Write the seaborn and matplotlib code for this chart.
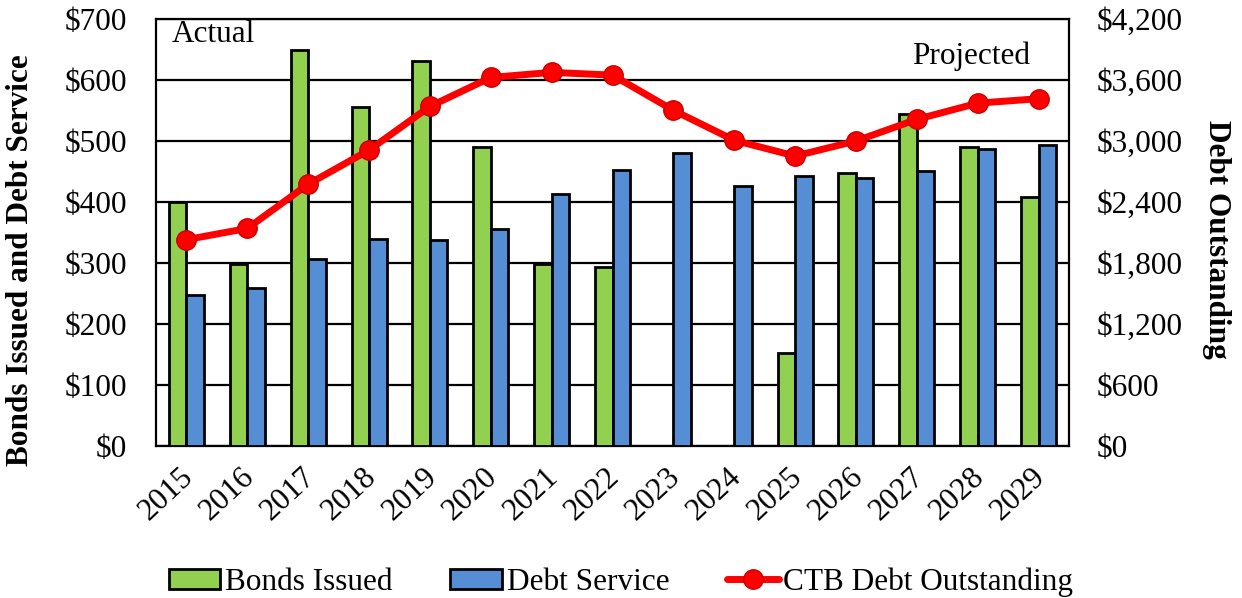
import numpy as np
import pandas as pd
import matplotlib
matplotlib.use("Agg")
import matplotlib.pyplot as plt
import matplotlib.transforms as mtransforms
import seaborn as sns
from matplotlib.lines import Line2D
from matplotlib.patches import Patch
from matplotlib.ticker import FuncFormatter

years = ["2015", "2016", "2017", "2018", "2019", "2020", "2021", "2022",
         "2023", "2024", "2025", "2026", "2027", "2028", "2029"]
bonds_issued = [400, 298, 650, 555, 631, 490, 298, 293, np.nan, np.nan,
                153, 448, 545, 490, 409]
debt_service = [248, 259, 306, 340, 338, 356, 413, 452, 481, 426,
                442, 440, 451, 487, 493]
debt_outstanding = [2030, 2140, 2575, 2910, 3340, 3625, 3675, 3648, 3302, 3007,
                    2852, 3000, 3213, 3372, 3416]

left_ticks = [0, 100, 200, 300, 400, 500, 600, 700]
right_ticks = [0, 600, 1200, 1800, 2400, 3000, 3600, 4200]

series_names = ["Bonds Issued", "Debt Service"]
line_name = "CTB Debt Outstanding"
green = "#92D050"
blue = "#558ED5"
red = "#FF0000"
FS = 22.5

sns.set_theme(style="white")
plt.rcParams["font.family"] = ["Liberation Serif", "DejaVu Serif"]
plt.rcParams["text.color"] = "black"
plt.rcParams["axes.labelcolor"] = "black"
plt.rcParams["xtick.color"] = "black"
plt.rcParams["ytick.color"] = "black"

df = pd.DataFrame({
    "year": years * 2,
    "value": bonds_issued + debt_service,
    "series": [series_names[0]] * len(years) + [series_names[1]] * len(years),
})

fig = plt.figure(figsize=(12.42, 5.98), dpi=100)
ax = fig.add_axes([156 / 1242, 1 - 446 / 598, (1069 - 156) / 1242, (446 - 19) / 598])

sns.barplot(data=df, x="year", y="value", hue="series", order=years,
            hue_order=series_names, palette=[green, blue], width=0.575,
            gap=0, edgecolor="black", linewidth=2, saturation=1,
            errorbar=None, legend=False, ax=ax, zorder=3)

ax.set_ylim(0, 700)
ax.set_yticks(left_ticks)
ax.yaxis.set_major_formatter(FuncFormatter(lambda v, p: f"${v:,.0f}"))
ax.grid(axis="y", color="black", linewidth=1.6, zorder=0)
ax.set_axisbelow(True)
ax.set_xlim(-0.5, len(years) - 0.5)
ax.set_xlabel("")
ax.set_ylabel("Bonds Issued and Debt Service", fontsize=FS, fontweight="bold", color="black")
ax.yaxis.set_label_coords(-0.1325, 0.436)
ax.tick_params(axis="both", length=0, labelsize=FS, colors="black", labelcolor="black")
ax.tick_params(axis="y", pad=21)
ax.tick_params(axis="x", pad=12)
offset = mtransforms.ScaledTranslation(-7 / 100, 0, fig.dpi_scale_trans)
for lab in ax.get_xticklabels():
    lab.set_rotation(43)
    lab.set_ha("right")
    lab.set_rotation_mode("anchor")
    lab.set_transform(lab.get_transform() + offset)
for s in ax.spines.values():
    s.set_color("black")
    s.set_linewidth(1.6)

ax2 = ax.twinx()
sns.lineplot(x=np.arange(len(years)), y=debt_outstanding, color=red, linewidth=5,
             marker="o", markersize=14, markerfacecolor=red, markeredgecolor="#CC0000",
             markeredgewidth=1, ax=ax2, zorder=5)
ax2.set_ylim(0, 4200)
ax2.set_yticks(right_ticks)
ax2.yaxis.set_major_formatter(FuncFormatter(lambda v, p: f"${v:,.0f}"))
ax2.set_ylabel("Debt Outstanding", fontsize=FS, fontweight="bold", rotation=270, color="black")
ax2.yaxis.label.set_va("bottom")
ax2.yaxis.set_label_coords((1202 - 156) / 913, 0.485)
ax2.tick_params(axis="y", length=0, labelsize=FS, colors="black", labelcolor="black", pad=20)
ax2.grid(False)
for s in ax2.spines.values():
    s.set_visible(False)

ax.text(0.0175, 0.946, "Actual", transform=ax.transAxes, fontsize=FS,
        va="baseline", ha="left", color="black")
ax.text(0.957, 0.895, "Projected", transform=ax.transAxes, fontsize=FS,
        va="baseline", ha="right", color="black")

handles = [
    Patch(facecolor=green, edgecolor="black", linewidth=2),
    Patch(facecolor=blue, edgecolor="black", linewidth=2),
    Line2D([0], [0], color=red, linewidth=5, marker="o", markersize=14,
           markerfacecolor=red, markeredgecolor="#CC0000"),
]
leg = fig.legend(handles, series_names + [line_name], loc="center",
                 bbox_to_anchor=(0.5, 0.027), ncol=3, frameon=False, fontsize=FS,
                 handlelength=1.65, handleheight=0.6, columnspacing=1.85,
                 handletextpad=0.15, borderpad=0.1)
for t in leg.get_texts():
    t.set_color("black")

fig.savefig("out.png", dpi=100)
